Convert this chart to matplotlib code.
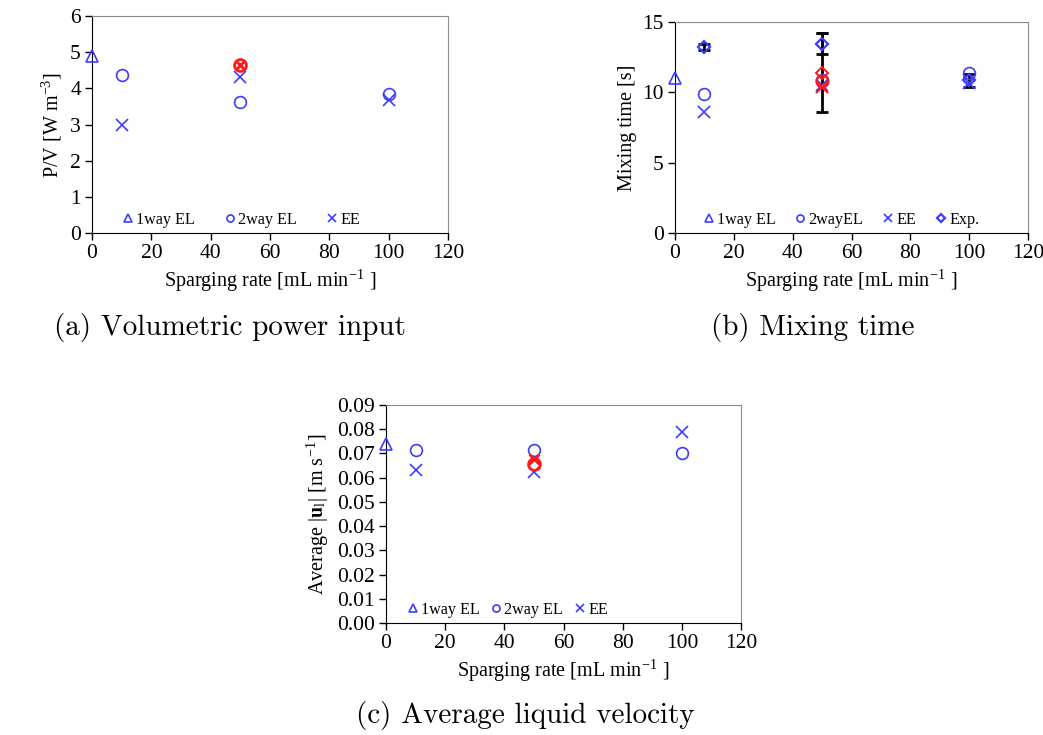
import matplotlib
matplotlib.use("Agg")
import matplotlib.pyplot as plt

plt.rcParams['font.family'] = ['Liberation Serif', 'DejaVu Serif']
plt.rcParams['mathtext.fontset'] = 'stix'

# ---- data ----
rate_1way = [0]
rate_sim = [10, 50, 100]
rate_red = [50]

# (a) Volumetric power input [W m^-3]
pv_1way = [4.9]
pv_2way = [4.38, 3.63, 3.83]
pv_ee = [3.0, 4.3, 3.67]
pv_red_circle = [4.65]
pv_red_x = [4.65]

# (b) Mixing time [s]
mt_1way = [11.0]
mt_2way = [9.85, 10.9, 11.35]
mt_ee = [8.6, 10.55, 10.65]
mt_exp = [13.2, 13.45, 10.85]
mt_exp_err = [0.2, 0.75, 0.45]
mt_red_diamond = [11.4]
mt_red_diamond_err = [2.8]
mt_red_circle = [10.8]
mt_red_x = [10.4]

# (c) Average liquid velocity [m s^-1]
u_1way = [0.074]
u_2way = [0.0715, 0.0713, 0.0703]
u_ee = [0.063, 0.0623, 0.0787]
u_red_circle = [0.0658]
u_red_x = [0.0675]

BLUE = '#3c3cff'
RED = '#ff1a1a'
MS = 8.5
TICK_FS = 15.5
LAB_FS = 14.5
LEG_FS = 11.6

fig = plt.figure(figsize=(10.43, 7.35), dpi=100)
ax_a = fig.add_axes([0.0882, 0.683, 0.3413, 0.2952])
ax_b = fig.add_axes([0.6472, 0.683, 0.3384, 0.2871])
ax_c = fig.add_axes([0.3701, 0.1524, 0.3404, 0.2966])

def style(ax, ylim, yticks, yfmt, ylabel):
    ax.set_xlim(0, 120)
    ax.set_xticks(range(0, 121, 20))
    ax.set_ylim(*ylim)
    ax.set_yticks(yticks)
    ax.set_yticklabels([yfmt.format(v) for v in yticks])
    ax.tick_params(direction='out', length=5, width=1, labelsize=TICK_FS, top=False, right=False, pad=3)
    for s in ['top', 'right']:
        ax.spines[s].set_color('#8c8c8c')
    for s in ['left', 'bottom']:
        ax.spines[s].set_color('black')
    ax.set_xlabel('Sparging rate [mL min$^{\\mathregular{-1}}$ ]', fontsize=LAB_FS, labelpad=3)
    ax.set_ylabel(ylabel, fontsize=LAB_FS, labelpad=4)

def pts(ax, x, y, marker, color, ms=MS, mew=1.2, label=None):
    ax.plot(x, y, linestyle='none', marker=marker, ms=ms, mfc='none', mec=color,
            mew=mew, label=label, clip_on=False, zorder=3)

def legend(ax, ncol, x0, colsp):
    ax.legend(loc='lower left', bbox_to_anchor=(x0, 0.008), ncol=ncol, frameon=False,
              markerscale=0.6, handlelength=0.7, handletextpad=0.15, columnspacing=colsp,
              fontsize=LEG_FS, borderaxespad=0.1, borderpad=0.1)

# (a)
pts(ax_a, rate_1way, pv_1way, '^', BLUE, label='1way EL')
pts(ax_a, rate_sim, pv_2way, 'o', BLUE, label='2way EL')
pts(ax_a, rate_sim, pv_ee, 'x', BLUE, label='EE')
pts(ax_a, rate_red, pv_red_circle, 'o', RED, mew=2)
pts(ax_a, rate_red, pv_red_x, 'x', RED, ms=6, mew=2)
style(ax_a, (0, 6), list(range(0, 7)), '{:d}', 'P/V [W m$^{\\mathregular{-3}}$]')
legend(ax_a, 3, 0.075, 1.85)

# (b)
ax_b.errorbar(rate_sim, mt_exp, yerr=mt_exp_err, fmt='none', ecolor='black',
              elinewidth=2, capsize=4, capthick=2, zorder=2)
ax_b.errorbar(rate_red, mt_red_diamond, yerr=mt_red_diamond_err, fmt='none', ecolor='black',
              elinewidth=2, capsize=4, capthick=2, zorder=2)
pts(ax_b, rate_1way, mt_1way, '^', BLUE, label='1way EL')
pts(ax_b, rate_sim, mt_2way, 'o', BLUE, label='2wayEL')
pts(ax_b, rate_sim, mt_ee, 'x', BLUE, label='EE')
pts(ax_b, rate_sim, mt_exp, 'D', BLUE, ms=6.5, mew=1.6, label='Exp.')
pts(ax_b, rate_red, mt_red_diamond, 'D', RED, ms=6.5, mew=1.4)
pts(ax_b, rate_red, mt_red_circle, 'o', RED, mew=1.6)
pts(ax_b, rate_red, mt_red_x, 'x', RED, mew=1.6)
style(ax_b, (0, 15), [0, 5, 10, 15], '{:d}', 'Mixing time [s]')
legend(ax_b, 4, 0.07, 1.2)

# (c)
pts(ax_c, rate_1way, u_1way, '^', BLUE, label='1way EL')
pts(ax_c, rate_sim, u_2way, 'o', BLUE, label='2way EL')
pts(ax_c, rate_sim, u_ee, 'x', BLUE, label='EE')
pts(ax_c, rate_red, u_red_circle, 'o', RED, mew=2)
pts(ax_c, rate_red, u_red_x, 'x', RED, ms=7, mew=2)
yt = [i / 100 for i in range(0, 10)]
style(ax_c, (0, 0.09), yt, '{:.2f}', 'Average |$\\mathbf{u}_{\\mathregular{l}}$| [m s$^{\\mathregular{-1}}$]')
legend(ax_c, 3, 0.05, 0.7)

# captions
cap_font = dict(family='cmr10', fontsize=21)
fig.text(230 / 1043, 1 - 328 / 735, '(a) Volumetric power input', ha='center', va='center', **cap_font)
fig.text(813 / 1043, 1 - 328 / 735, '(b) Mixing time', ha='center', va='center', **cap_font)
fig.text(525 / 1043, 1 - 716 / 735, '(c) Average liquid velocity', ha='center', va='center', **cap_font)

fig.savefig('out.png', dpi=100)
